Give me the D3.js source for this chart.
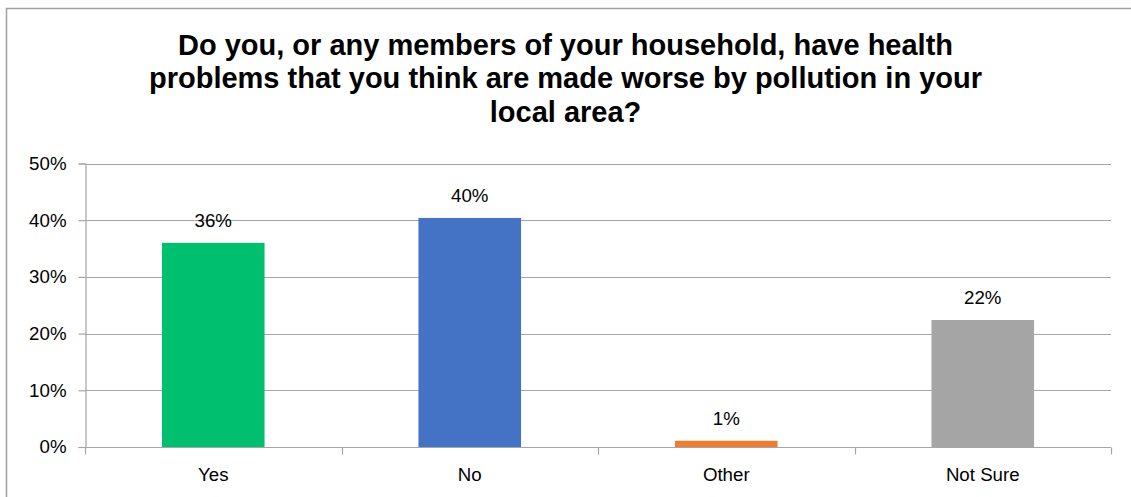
<!DOCTYPE html>
<html>
<head>
<meta charset="utf-8">
<script src="https://cdn.jsdelivr.net/npm/d3@7"></script>
<style>
  html, body { margin: 0; padding: 0; background: #fff; }
  svg { display: block; font-family: "Liberation Sans", Arial, sans-serif; }
</style>
</head>
<body>
<svg id="chart" width="1131" height="497"></svg>
<script>
// Survey responses
const categories = ["Yes", "No", "Other", "Not Sure"];
const values = [0.36, 0.404, 0.011, 0.224];
const colors = ["#00BF6F", "#4472C4", "#ED7D31", "#A5A5A5"];
const yTicks = [0, 0.1, 0.2, 0.3, 0.4, 0.5];
const titleLines = [
  "Do you, or any members of your household, have health",
  "problems that you think are made worse by pollution in your",
  "local area?"
];

const svg = d3.select("#chart");
const W = 1131, H = 497;
const plot = { left: 85, right: 1111, top: 163.5, bottom: 447 };

// outer chart frame
svg.append("rect")
  .attr("x", 6.5).attr("y", 8.5)
  .attr("width", W + 10).attr("height", H + 10)
  .attr("fill", "#fff")
  .attr("stroke", "#A0A0A0")
  .attr("stroke-width", 1.5);

// title
const title = svg.append("text")
  .attr("text-anchor", "middle")
  .attr("font-weight", "bold")
  .attr("font-size", "29px")
  .attr("fill", "#000");
titleLines.forEach((line, i) => {
  title.append("tspan")
    .attr("x", W / 2)
    .attr("y", 54.5 + i * 33.6)
    .text(line);
});

const x = d3.scaleBand()
  .domain(categories)
  .range([plot.left, plot.right])
  .padding(0);

const y = d3.scaleLinear()
  .domain([0, 0.5])
  .range([plot.bottom, plot.top]);

// gridlines
svg.append("g")
  .selectAll("line")
  .data(yTicks.filter(t => t > 0))
  .join("line")
  .attr("x1", plot.left).attr("x2", plot.right)
  .attr("y1", d => Math.round(y(d)) + 0.5)
  .attr("y2", d => Math.round(y(d)) + 0.5)
  .attr("stroke", "#A6A6A6")
  .attr("stroke-width", 1.2);

// y axis
const yAxis = svg.append("g")
  .attr("transform", `translate(${plot.left + 0.5},0)`)
  .call(d3.axisLeft(y).tickValues(yTicks).tickFormat(d3.format(".0%")).tickSize(7).tickPadding(12));
yAxis.select(".domain").attr("stroke", "#A6A6A6").attr("stroke-width", 1.2);
yAxis.selectAll(".tick line").attr("stroke", "#A6A6A6").attr("stroke-width", 1.2);
yAxis.selectAll(".tick text")
  .attr("font-size", "18.7px")
  .attr("fill", "#000")
  .attr("font-family", "'Liberation Sans', Arial, sans-serif");

// bars
const barW = x.bandwidth() * 0.4;
svg.append("g")
  .selectAll("rect")
  .data(categories)
  .join("rect")
  .attr("x", d => x(d) + (x.bandwidth() - barW) / 2)
  .attr("width", barW)
  .attr("y", (d, i) => y(values[i]))
  .attr("height", (d, i) => y(0) - y(values[i]))
  .attr("fill", (d, i) => colors[i]);

// x axis
const xAxis = svg.append("g")
  .attr("transform", `translate(0,${Math.round(plot.bottom) + 0.5})`)
  .call(d3.axisBottom(x).tickSize(0).tickPadding(20));
xAxis.select(".domain").remove();
xAxis.append("line")
  .attr("x1", plot.left).attr("x2", plot.right)
  .attr("stroke", "#A6A6A6").attr("stroke-width", 1.2);
xAxis.selectAll(".boundary")
  .data(d3.range(categories.length + 1))
  .join("line")
  .attr("class", "boundary")
  .attr("x1", i => Math.round(plot.left + i * x.step()) + 0.5)
  .attr("x2", i => Math.round(plot.left + i * x.step()) + 0.5)
  .attr("y1", 0).attr("y2", 7)
  .attr("stroke", "#A6A6A6").attr("stroke-width", 1.2);
xAxis.selectAll(".tick text")
  .attr("font-size", "18.7px")
  .attr("fill", "#000")
  .attr("font-family", "'Liberation Sans', Arial, sans-serif");

// value labels
svg.append("g")
  .selectAll("text")
  .data(categories)
  .join("text")
  .attr("x", d => x(d) + x.bandwidth() / 2)
  .attr("y", (d, i) => y(values[i]) - 15.5)
  .attr("text-anchor", "middle")
  .attr("font-size", "18.7px")
  .attr("fill", "#000")
  .text((d, i) => d3.format(".0%")(values[i]));
</script>
</body>
</html>
